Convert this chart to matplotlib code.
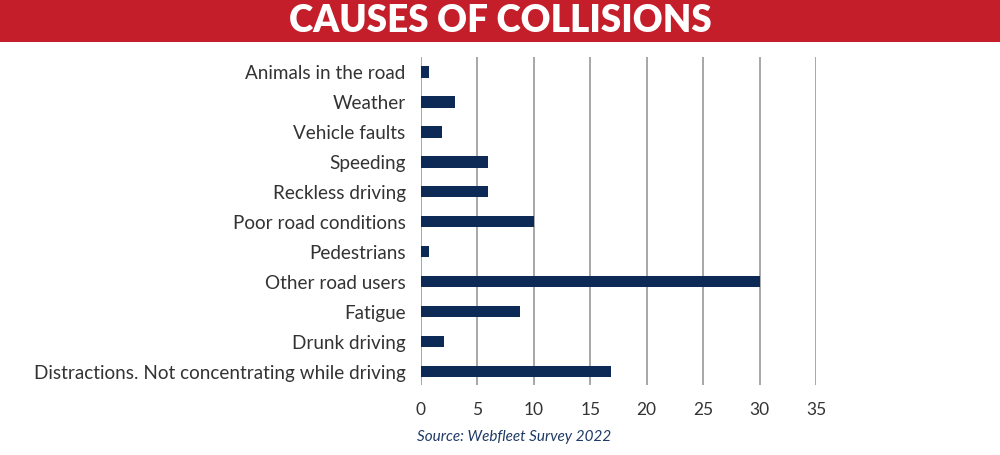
import matplotlib
matplotlib.use("Agg")
import matplotlib.pyplot as plt
from matplotlib.patches import Rectangle

categories = ["Animals in the road", "Weather", "Vehicle faults", "Speeding",
              "Reckless driving", "Poor road conditions", "Pedestrians",
              "Other road users", "Fatigue", "Drunk driving",
              "Distractions. Not concentrating while driving"]
values = [0.7, 3.0, 1.9, 5.9, 5.9, 10.0, 0.7, 30.0, 8.8, 2.0, 16.8]
xticks = [0, 5, 10, 15, 20, 25, 30, 35]
title = "CAUSES OF COLLISIONS"
source = "Source: Webfleet Survey 2022"

W, H = 1000, 455
fig = plt.figure(figsize=(W / 100, H / 100), dpi=100)
fig.patch.set_facecolor("white")

# red title band
fig.patches.append(Rectangle((0, 1 - 42 / H), 1, 42 / H, transform=fig.transFigure,
                             facecolor="#C41E2A", edgecolor="none", zorder=0))
fig.text(0.5, 1 - 21 / H, title, ha="center", va="center", color="white",
         fontsize=26.5, fontweight="heavy", family="Lato")

ax = fig.add_axes([421 / W, 1 - 385 / H, (816 - 421) / W, (385 - 57) / H])
y = list(range(len(categories)))
ax.barh(y, values, height=0.38, color="#0C2A55", zorder=3)
ax.set_ylim(10.45, -0.5)
ax.set_xlim(0, 35)
ax.set_xticks(xticks)
ax.set_xticklabels([str(t) for t in xticks], fontsize=12.5, color="#333333", family="Lato")
ax.set_yticks(y)
ax.set_yticklabels(categories, fontsize=13.6, color="#333333", family="Lato")
ax.tick_params(axis="both", length=0)
ax.tick_params(axis="y", pad=11)
ax.tick_params(axis="x", pad=12)
for s in ax.spines.values():
    s.set_visible(False)
ax.grid(axis="x", color="#8f8f8f", linewidth=1.1, zorder=0)
ax.set_axisbelow(True)

fig.text(514 / W, 1 - 437 / H, source, ha="center", va="center", color="#1F3A66",
         fontsize=11, fontstyle="italic", family="Lato")

fig.savefig("out.png", dpi=100)
